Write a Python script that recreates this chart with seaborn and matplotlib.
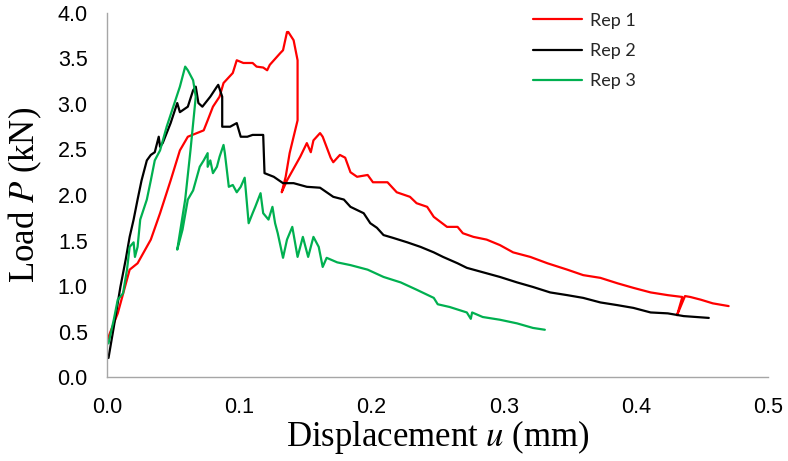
import matplotlib
matplotlib.use("Agg")
import matplotlib.pyplot as plt
import seaborn as sns
import pandas as pd

# ---- data ----
rep1_u = [0.000, 0.002, 0.008, 0.017, 0.023, 0.033, 0.040, 0.048, 0.055, 0.061, 0.073, 0.076,
          0.080, 0.085, 0.088, 0.095, 0.098, 0.103, 0.110, 0.113, 0.118, 0.121, 0.123, 0.131,
          0.133, 0.136, 0.137, 0.141, 0.144, 0.144, 0.144, 0.138, 0.135, 0.132, 0.136, 0.146,
          0.151, 0.154, 0.156, 0.161, 0.163, 0.169, 0.171, 0.176, 0.180, 0.184, 0.189, 0.197,
          0.201, 0.212, 0.219, 0.229, 0.234, 0.242, 0.247, 0.257, 0.265, 0.269, 0.277, 0.287,
          0.297, 0.307, 0.320, 0.333, 0.348, 0.360, 0.373, 0.386, 0.398, 0.411, 0.424, 0.435,
          0.431, 0.437, 0.441, 0.449, 0.458, 0.470]
rep1_P = [0.40, 0.48, 0.70, 1.18, 1.25, 1.51, 1.80, 2.16, 2.49, 2.64, 2.71, 2.82,
          2.97, 3.08, 3.23, 3.34, 3.48, 3.45, 3.45, 3.41, 3.40, 3.37, 3.43, 3.56,
          3.59, 3.79, 3.79, 3.70, 3.48, 3.15, 2.82, 2.46, 2.20, 2.03, 2.16, 2.42,
          2.57, 2.47, 2.60, 2.68, 2.64, 2.41, 2.36, 2.44, 2.41, 2.25, 2.20, 2.22,
          2.14, 2.14, 2.03, 1.98, 1.91, 1.87, 1.76, 1.65, 1.65, 1.58, 1.54, 1.51,
          1.45, 1.37, 1.32, 1.25, 1.18, 1.12, 1.09, 1.03, 0.98, 0.93, 0.90, 0.88,
          0.68, 0.89, 0.88, 0.85, 0.81, 0.78]

rep2_u = [0.001, 0.005, 0.010, 0.014, 0.017, 0.020, 0.023, 0.026, 0.030, 0.033, 0.036, 0.039,
          0.040, 0.042, 0.048, 0.053, 0.055, 0.061, 0.065, 0.067, 0.069, 0.072, 0.078, 0.083,
          0.084, 0.087, 0.087, 0.093, 0.098, 0.101, 0.106, 0.110, 0.118, 0.119, 0.126, 0.133,
          0.141, 0.151, 0.161, 0.171, 0.179, 0.184, 0.194, 0.199, 0.204, 0.209, 0.216, 0.227,
          0.237, 0.247, 0.254, 0.265, 0.272, 0.287, 0.297, 0.310, 0.322, 0.335, 0.348, 0.360,
          0.373, 0.386, 0.398, 0.411, 0.424, 0.436, 0.455]
rep2_P = [0.21, 0.55, 0.99, 1.29, 1.54, 1.73, 1.95, 2.16, 2.38, 2.44, 2.47, 2.64,
          2.53, 2.57, 2.79, 3.01, 2.91, 2.97, 3.15, 3.19, 3.01, 2.97, 3.08, 3.19,
          3.21, 3.08, 2.75, 2.75, 2.79, 2.64, 2.64, 2.66, 2.66, 2.24, 2.20, 2.13,
          2.13, 2.09, 2.08, 1.98, 1.95, 1.87, 1.80, 1.69, 1.64, 1.56, 1.53, 1.48,
          1.43, 1.37, 1.32, 1.25, 1.20, 1.14, 1.10, 1.04, 0.99, 0.93, 0.90, 0.87,
          0.82, 0.79, 0.76, 0.71, 0.70, 0.67, 0.65]

rep3_u = [0.001, 0.005, 0.008, 0.012, 0.015, 0.017, 0.020, 0.021, 0.023, 0.025, 0.030, 0.033,
          0.036, 0.040, 0.045, 0.050, 0.055, 0.059, 0.061, 0.065, 0.067, 0.063, 0.059, 0.053,
          0.057, 0.061, 0.065, 0.070, 0.073, 0.076, 0.076, 0.078, 0.080, 0.083, 0.085, 0.088,
          0.089, 0.092, 0.095, 0.098, 0.101, 0.104, 0.107, 0.110, 0.112, 0.116, 0.118, 0.122,
          0.125, 0.127, 0.129, 0.133, 0.136, 0.140, 0.144, 0.148, 0.152, 0.156, 0.160, 0.163,
          0.166, 0.174, 0.184, 0.197, 0.209, 0.222, 0.234, 0.247, 0.250, 0.259, 0.272, 0.275,
          0.276, 0.284, 0.297, 0.310, 0.322, 0.331]
rep3_P = [0.37, 0.63, 0.85, 0.92, 1.18, 1.43, 1.48, 1.32, 1.43, 1.73, 1.95, 2.16,
          2.38, 2.49, 2.75, 2.97, 3.19, 3.41, 3.37, 3.26, 3.08, 2.49, 1.95, 1.40,
          1.62, 1.95, 2.05, 2.31, 2.38, 2.46, 2.31, 2.38, 2.24, 2.31, 2.42, 2.55,
          2.46, 2.09, 2.11, 2.03, 2.09, 2.19, 1.69, 1.80, 1.87, 2.02, 1.80, 1.73,
          1.87, 1.69, 1.58, 1.31, 1.51, 1.65, 1.32, 1.54, 1.32, 1.54, 1.43, 1.21,
          1.31, 1.26, 1.23, 1.18, 1.10, 1.04, 0.96, 0.87, 0.80, 0.77, 0.71, 0.64,
          0.71, 0.66, 0.63, 0.59, 0.54, 0.52]

labels = ["Rep 1", "Rep 2", "Rep 3"]
colors = ["#FF0000", "#000000", "#00B050"]
x_ticks = [0.0, 0.1, 0.2, 0.3, 0.4, 0.5]
y_ticks = [0.0, 0.5, 1.0, 1.5, 2.0, 2.5, 3.0, 3.5, 4.0]

frames = []
for lab, u, p in zip(labels, [rep1_u, rep2_u, rep3_u], [rep1_P, rep2_P, rep3_P]):
    d = pd.DataFrame({"u": u, "P": p})
    d["Rep"] = lab
    frames.append(d)
df = pd.concat(frames, ignore_index=True)

sns.set_style("white")
plt.rcParams["font.family"] = ["Liberation Sans", "DejaVu Sans"]
plt.rcParams["mathtext.fontset"] = "stix"

fig = plt.figure(figsize=(7.88, 4.61), dpi=100)
ax = fig.add_axes([0.136, 0.182, 0.839, 0.790])

sns.lineplot(data=df, x="u", y="P", hue="Rep", palette=dict(zip(labels, colors)),
             sort=False, estimator=None, linewidth=1.6, ax=ax)

ax.set_xlim(0, 0.5)
ax.set_ylim(0, 4.0)
ax.set_xticks(x_ticks)
ax.set_yticks(y_ticks)
ax.set_xticklabels([f"{t:.1f}" for t in x_ticks], fontsize=15.5, color="black",
                   family="Liberation Sans")
ax.set_yticklabels([f"{t:.1f}" for t in y_ticks], fontsize=15.5, color="black",
                   family="Liberation Sans")
ax.tick_params(axis="both", direction="out", length=5, width=1, color="#A6A6A6")
ax.tick_params(axis="x", pad=9)
ax.tick_params(axis="y", pad=9)

for s in ["top", "right"]:
    ax.spines[s].set_visible(False)
for s in ["left", "bottom"]:
    ax.spines[s].set_color("#A6A6A6")
    ax.spines[s].set_linewidth(1)

ax.set_xlabel("Displacement $\\it{u}$ (mm)", fontsize=25, family="Liberation Serif",
              labelpad=0, color="black")
ax.set_ylabel("Load $\\it{P}$ (kN)", fontsize=25, family="Liberation Serif",
              color="black")
ax.yaxis.set_label_coords(-0.096, 0.5)

handles, labs = ax.get_legend_handles_labels()
ax.legend(handles, labs, loc="upper left", bbox_to_anchor=(0.656, 1.008),
          bbox_transform=fig.transFigure, frameon=False,
          prop={"family": "Lato", "size": 13}, handlelength=2.7, labelspacing=0.8,
          handletextpad=0.45)

fig.savefig("out.png", dpi=100)
